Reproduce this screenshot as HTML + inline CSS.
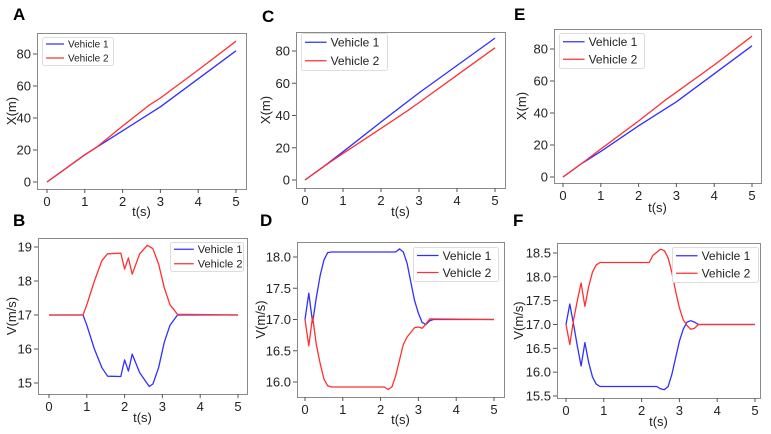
<!DOCTYPE html>
<html><head><meta charset="utf-8"><style>
html,body{margin:0;padding:0;background:#fff;}
svg{display:block;font-family:"Liberation Sans","DejaVu Sans",sans-serif;}
</style></head><body>
<svg id="fig" width="771" height="434" viewBox="0 0 771 434" xmlns="http://www.w3.org/2000/svg"></svg>
<script>
// ---- data ----
const aT1=[0,1,1.3,2,3,4,5], aX1=[0,17,21.5,32,47,64.5,82];
const aT2=[0,1,1.3,2,2.7,3,4,5], aX2=[0,17,21.5,35,48,52.5,70,88];
const cT1=[0,0.5,1,2,3,4,5], cX1=[0,8.5,17.5,36,54,71,88];
const cT2=[0,0.5,1,2,2.7,3,4,5], cX2=[0,8.5,16.5,32,43,48,65,82];
const eT1=[0,0.5,1,2,3,4,5], eX1=[0,8.5,16,32,47,64.5,82];
const eT2=[0,0.5,1,2,2.7,3,4,5], eX2=[0,8.5,17.5,35,48,53,70,88];
const bT2=[0,0.9,1.0,1.2,1.4,1.55,1.9,2.0,2.1,2.2,2.4,2.6,2.75,2.9,3.05,3.2,3.4,5];
const bV2=[17,17,17.3,18.0,18.6,18.8,18.82,18.35,18.68,18.2,18.8,19.05,18.95,18.5,17.8,17.3,17.02,17];
const bT1=[0,0.9,1.0,1.2,1.4,1.55,1.9,2.0,2.1,2.2,2.4,2.65,2.75,2.9,3.05,3.2,3.4,5];
const bV1=[17,17,16.7,16.0,15.45,15.2,15.19,15.68,15.35,15.85,15.3,14.9,14.97,15.45,16.2,16.7,17,17];
const dT1=[0,0.1,0.2,0.3,0.4,0.5,0.6,0.7,2.4,2.5,2.6,2.7,2.8,2.9,3.0,3.1,3.2,3.3,3.4,5];
const dV1=[17,17.42,16.95,17.35,17.7,17.95,18.07,18.08,18.08,18.13,18.08,17.9,17.6,17.3,17.1,16.95,16.92,16.98,17,17];
const dT2=[0,0.1,0.2,0.3,0.4,0.5,0.6,0.7,2.1,2.2,2.3,2.4,2.5,2.6,2.7,2.9,3.0,3.1,3.2,3.3,5];
const dV2=[17,16.58,17.05,16.6,16.3,16.05,15.94,15.92,15.92,15.88,15.92,16.1,16.35,16.6,16.72,16.87,16.88,16.86,16.93,17.01,17];
const fT2=[0,0.1,0.2,0.3,0.4,0.5,0.6,0.7,0.8,0.9,2.2,2.3,2.5,2.6,2.7,2.8,2.9,3.0,3.1,3.2,3.3,3.4,3.5,5];
const fV2=[17,16.58,17.1,17.5,17.87,17.38,17.8,18.1,18.25,18.3,18.3,18.45,18.58,18.55,18.4,18.1,17.7,17.35,17.1,16.98,16.9,16.92,17,17];
const fT1=[0,0.1,0.2,0.3,0.4,0.5,0.6,0.7,0.8,0.9,2.4,2.5,2.6,2.7,2.8,2.9,3.0,3.1,3.2,3.3,3.4,3.5,5];
const fV1=[17,17.43,17.0,16.55,16.13,16.62,16.2,15.9,15.75,15.7,15.7,15.65,15.63,15.7,15.95,16.3,16.65,16.9,17.05,17.08,17.05,17,17];
const xTicks=[0,1,2,3,4,5];
const posTicks=[0,20,40,60,80];
const bTicks=[15,16,17,18,19];
const dTicks=[16.0,16.5,17.0,17.5,18.0];
const fTicks=[15.5,16.0,16.5,17.0,17.5,18.0,18.5];
const seriesNames=["Vehicle 1","Vehicle 2"];
// ---- layout ----
const BLUE="#3030ff", RED="#ff3030";
const panels=[
 {id:"a",L:"A",lx:13,ly:20,box:[37,33,246,189],x0:47,x5:236,yv:[0,80],yp:[182,54],ticks:posTicks,fmt:v=>v,yl:"X(m)",ylx:12,xly:216,
  s:[[aT1,aX1,BLUE],[aT2,aX2,RED]],leg:[42,37,113,65,10]},
 {id:"b",L:"B",lx:13,ly:226,box:[38,238,247,394],x0:49,x5:238,yv:[15,19],yp:[383,247],ticks:bTicks,fmt:v=>v,yl:"V(m/s)",ylx:12,xly:422,
  s:[[bT1,bV1,BLUE],[bT2,bV2,RED]],leg:[170,242,243,271,11]},
 {id:"c",L:"C",lx:262,ly:22,box:[296,32,505,188],x0:305,x5:495,yv:[0,80],yp:[180,51],ticks:posTicks,fmt:v=>v,yl:"X(m)",ylx:266,xly:216,
  s:[[cT1,cX1,BLUE],[cT2,cX2,RED]],leg:[301,33,387,70,12]},
 {id:"d",L:"D",lx:260,ly:226,box:[297,242,504,397],x0:305,x5:494,yv:[16,18],yp:[382,257],ticks:dTicks,fmt:v=>v.toFixed(1),yl:"V(m/s)",ylx:261,xly:424,
  s:[[dT1,dV1,BLUE],[dT2,dV2,RED]],leg:[413,247,498,281,12]},
 {id:"e",L:"E",lx:514,ly:20,box:[554,29,761,183],x0:563,x5:752,yv:[0,80],yp:[177,49],ticks:posTicks,fmt:v=>v,yl:"X(m)",ylx:522,xly:212,
  s:[[eT1,eX1,BLUE],[eT2,eX2,RED]],leg:[559,33,644,68,12]},
 {id:"f",L:"F",lx:513,ly:226,box:[557,243,760,398],x0:566,x5:755,yv:[15.5,18.5],yp:[396,253],ticks:fTicks,fmt:v=>v.toFixed(1),yl:"V(m/s)",ylx:519,xly:426,
  s:[[fT1,fV1,BLUE],[fT2,fV2,RED]],leg:[672,247,758,282,12]}
];
const NS="http://www.w3.org/2000/svg", fig=document.getElementById('fig');
function mk(tag,attrs,parent,text){const e=document.createElementNS(NS,tag);for(const k in attrs)e.setAttribute(k,attrs[k]);if(text!==undefined)e.textContent=text;(parent||fig).appendChild(e);return e;}
panels.forEach(p=>{
 const g=mk('g',{});
 
 
 const sx=t=>p.x0+(p.x5-p.x0)*t/5;
 const sy=v=>p.yp[0]+(p.yp[1]-p.yp[0])*(v-p.yv[0])/(p.yv[1]-p.yv[0]);
 const lab=mk('text',{x:p.lx,y:p.ly,'font-size':17,'font-weight':'bold',fill:'#000'},g,p.L);
 
 
 const [x1,y1,x2,y2]=p.box;
 p.s.forEach((s,i)=>{
  const pts=s[0].map((t,j)=>sx(t).toFixed(1)+','+sy(s[1][j]).toFixed(1)).join(' ');
  const pl=mk('polyline',{points:pts,fill:'none',stroke:s[2],'stroke-width':1.3,'stroke-linejoin':'round'},g);
  
  
 });
 const fr=mk('rect',{x:x1+.5,y:y1+.5,width:x2-x1,height:y2-y1,fill:'none',stroke:'#8a8a8a','stroke-width':1},g);
 
 
 xTicks.forEach(t=>{
  const x=sx(t);
  mk('line',{x1:x,x2:x,y1:y2,y2:y2+4,stroke:'#555'},g);
  const tl=mk('text',{x:x,y:y2+17,'font-size':13,'text-anchor':'middle',fill:'#222'},g,t);
  
  
 });
 p.ticks.forEach(v=>{
  const y=sy(v);
  mk('line',{x1:x1-4,x2:x1,y1:y,y2:y,stroke:'#555'},g);
  const tl=mk('text',{x:x1-6,y:y+4.5,'font-size':13,'text-anchor':'end',fill:'#222'},g,p.fmt(v));
  
  
 });
 const xl=mk('text',{x:(x1+x2)/2,y:p.xly,'font-size':13,'text-anchor':'middle',fill:'#222'},g,'t(s)');
 
 
 const yc=(y1+y2)/2;
 const yl=mk('text',{x:p.ylx,y:yc,'font-size':13,'text-anchor':'middle',fill:'#222',transform:'rotate(-90 '+p.ylx+' '+yc+')',dy:4},g,p.yl);
 
 
 const [lx1,ly1,lx2,ly2,fs]=p.leg;
 const lg=mk('g',{},g);
 
 
 mk('rect',{x:lx1+.5,y:ly1+.5,width:lx2-lx1,height:ly2-ly1,fill:'#fff',stroke:'#ddd',rx:2},lg);
 const rowH=(ly2-ly1)/2, lineW=fs*1.8;
 seriesNames.forEach((n,i)=>{
  const cy=ly1+rowH*(i+0.5);
  mk('line',{x1:lx1+4,x2:lx1+4+lineW,y1:cy,y2:cy,stroke:p.s[i][2],'stroke-width':1.3},lg);
  const t=mk('text',{x:lx1+8+lineW,y:cy+fs*0.36,'font-size':fs,fill:'#222'},lg,n);
  
  
 });
});
</script>
</body></html>
